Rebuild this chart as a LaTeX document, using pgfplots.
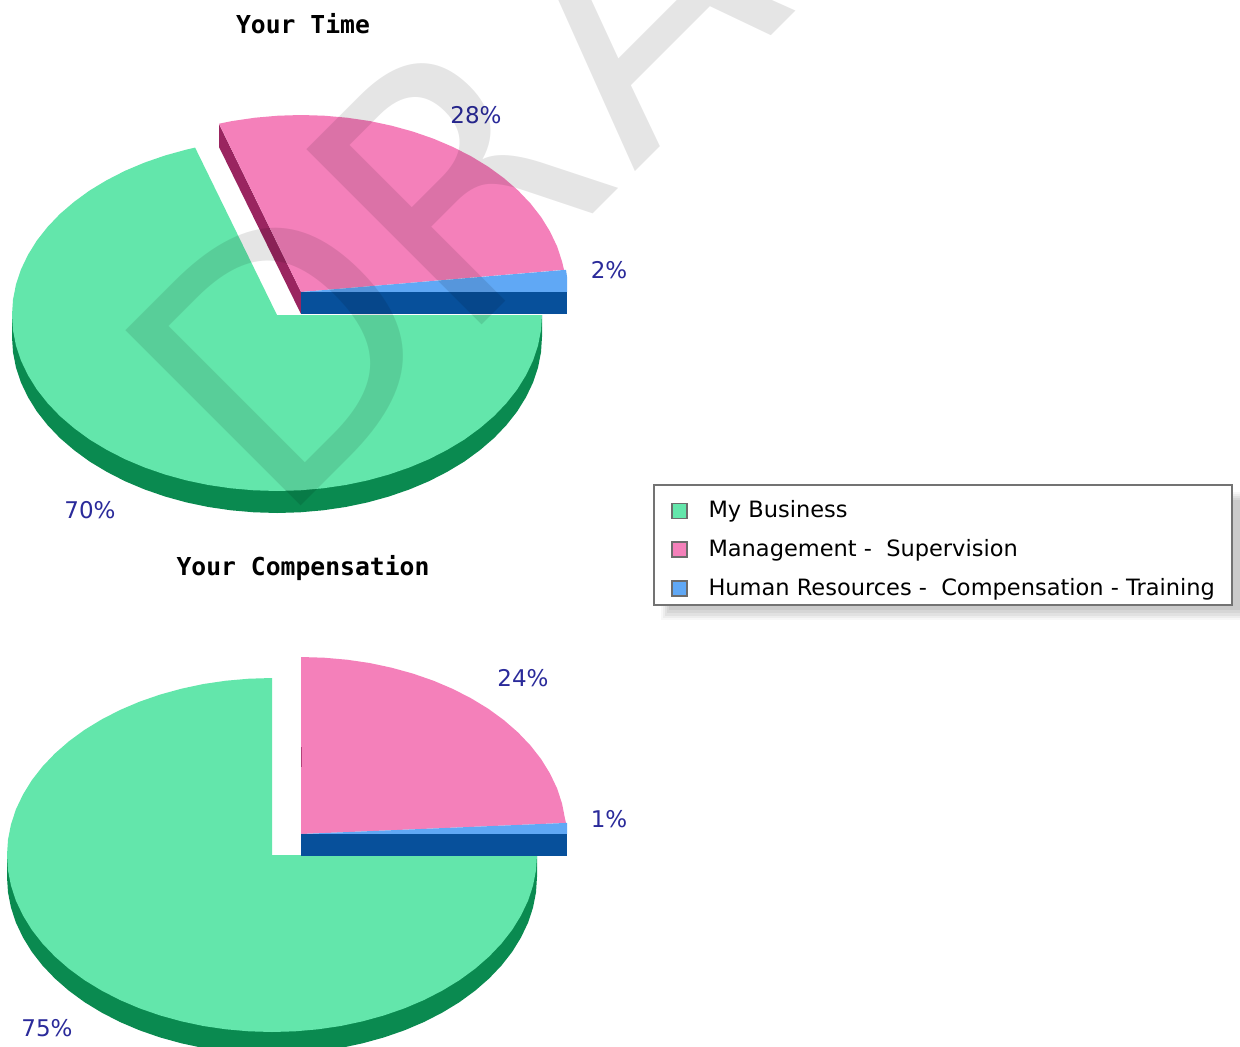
\documentclass[border=0pt]{standalone}
\usepackage{fontspec}
\setmainfont{DejaVu Sans}
\newfontfamily\titlefont[Scale=1]{DejaVu Sans Mono Bold}
\usepackage{pgfplots}
\pgfplotsset{compat=1.18}
\definecolor{gA}{HTML}{63E6AB}
\definecolor{gD}{HTML}{0A8A50}
\definecolor{pA}{HTML}{F480BA}
\definecolor{pD}{HTML}{9A2560}
\definecolor{bA}{HTML}{60A8F5}
\definecolor{bD}{HTML}{07509B}
\definecolor{lab}{HTML}{2A2A9A}
\pgfplotsset{wedge/.style={fill=#1,draw=none,no markers,forget plot},
 lwedge/.style={fill=#1,draw=none,no markers}}
\newcommand{\pct}[2]{\node[text=lab,font=\fontsize{23}{23}\selectfont,anchor=center,inner sep=0pt] at (axis cs:#1) {#2\%};}
\begin{document}
\begin{tikzpicture}
\clip (0,0) rectangle (1240pt,1047pt);
\begin{axis}[at={(0,0)},anchor=south west,scale only axis,width=1240pt,height=1047pt,
 xmin=0,xmax=1240,ymin=0,ymax=1047,y dir=reverse,hide axis,clip=false,
 legend cell align=left,
 legend image code/.code={\draw[#1,draw=gray!85!black,line width=1.6pt] (0pt,-12.5pt) rectangle (15pt,2.5pt);},
 legend style={at={(axis cs:653,484)},anchor=north west,draw=gray!90!black,line width=1.8pt,fill=white,
  inner xsep=17pt,inner ysep=8pt,row sep=12.5pt,
  /tikz/column 1/.style={column sep=21pt},
  nodes={inner sep=0pt,text height=25pt,text depth=1pt,font=\fontsize{22.5}{24}\selectfont}}]
% upper pie
\addplot[wedge=gD] coordinates {(12,315)(12,337)(13,352.3)(16,367.6)(21,382.6)(28,397.2)(36.8,411.4)(47.5,425)(59.9,438)(74,450.1)(89.6,461.5)(106.7,471.8)(125,481.2)(144.5,489.4)(165,496.5)(186.4,502.4)(208.4,507)(231,510.3)(253.9,512.3)(277,513)(300.1,512.3)(323,510.3)(345.6,507)(367.6,502.4)(389,496.5)(409.5,489.4)(429,481.2)(447.3,471.8)(464.4,461.5)(480,450.1)(494.1,438)(506.5,425)(517.2,411.4)(526,397.2)(533,382.6)(538,367.6)(541,352.3)(542,337)(542,315)};
\addplot[lwedge=gA] coordinates {(277,315)(195.1,147.6)(186.4,149.6)(165,155.5)(144.5,162.6)(125,170.8)(106.7,180.2)(89.6,190.5)(74,201.9)(59.9,214)(47.5,227)(36.8,240.6)(28,254.8)(21,269.4)(16,284.4)(13,299.7)(12,315)(13,330.3)(16,345.6)(21,360.6)(28,375.2)(36.8,389.4)(47.5,403)(59.9,416)(74,428.1)(89.6,439.5)(106.7,449.8)(125,459.2)(144.5,467.4)(165,474.5)(186.4,480.4)(208.4,485)(231,488.3)(253.9,490.3)(277,491)(300.1,490.3)(323,488.3)(345.6,485)(367.6,480.4)(389,474.5)(409.5,467.4)(429,459.2)(447.3,449.8)(464.4,439.5)(480,428.1)(494.1,416)(506.5,403)(517.2,389.4)(526,375.2)(533,360.6)(538,345.6)(541,330.3)(542,315)};
\addlegendentry{My Business}
\addplot[wedge=pD] coordinates {(219,124)(301,292)(301,314)(219,147)};
\addplot[lwedge=pA] coordinates {(301,292)(219,123.7)(232.4,121)(255,117.7)(277.9,115.7)(301,115)(324.1,115.7)(347,117.7)(369.6,121)(391.6,125.7)(413,131.6)(433.5,138.7)(453,147)(471.3,156.4)(488.4,166.8)(504,178.2)(518.1,190.5)(530.5,203.5)(541.2,217.2)(550,231.5)(557,246.2)(562,261.3)(564,269.8)};
\addlegendentry{Management -\ \ Supervision}
\addplot[lwedge=bA] coordinates {(301,292)(566,269.8)(567,276.6)(567,292)};
\addlegendentry{Human Resources -\ \ Compensation - Training}
\addplot[wedge=bD] coordinates {(301,292)(567,292)(567,314)(301,314)};
% lower pie
\addplot[wedge=gD] coordinates {(7,855)(7,877)(8,892.4)(11,907.7)(16,922.8)(23,937.5)(31.8,951.8)(42.5,965.5)(54.9,978.5)(69,990.8)(84.6,1002.2)(101.7,1012.6)(120,1022)(139.5,1030.3)(160,1037.4)(181.4,1043.3)(203.4,1048)(226,1051.3)(248.9,1053.3)(272,1054)(295.1,1053.3)(318,1051.3)(340.6,1048)(362.6,1043.3)(384,1037.4)(404.5,1030.3)(424,1022)(442.3,1012.6)(459.4,1002.2)(475,990.8)(489.1,978.5)(501.5,965.5)(512.2,951.8)(521,937.5)(528,922.8)(533,907.7)(536,892.4)(537,877)(537,855)};
\addplot[wedge=gA] coordinates {(272,855)(272,678)(248.9,678.7)(226,680.7)(203.4,684)(181.4,688.7)(160,694.6)(139.5,701.7)(120,710)(101.7,719.4)(84.6,729.8)(69,741.2)(54.9,753.5)(42.5,766.5)(31.8,780.2)(23,794.5)(16,809.2)(11,824.3)(8,839.7)(7,855)(8,870.4)(11,885.7)(16,900.8)(23,915.5)(31.8,929.8)(42.5,943.5)(54.9,956.5)(69,968.8)(84.6,980.2)(101.7,990.6)(120,1000)(139.5,1008.3)(160,1015.4)(181.4,1021.3)(203.4,1026)(226,1029.3)(248.9,1031.3)(272,1032)(295.1,1031.3)(318,1029.3)(340.6,1026)(362.6,1021.3)(384,1015.4)(404.5,1008.3)(424,1000)(442.3,990.6)(459.4,980.2)(475,968.8)(489.1,956.5)(501.5,943.5)(512.2,929.8)(521,915.5)(528,900.8)(533,885.7)(536,870.4)(537,855)};
\addplot[wedge=pA] coordinates {(301,834)(301,657)(324.1,657.7)(347,659.7)(369.6,663)(391.6,667.7)(413,673.6)(433.5,680.7)(453,689)(471.3,698.4)(488.4,708.8)(504,720.2)(518.1,732.5)(530.5,745.5)(541.2,759.2)(550,773.5)(557,788.2)(562,803.3)(565,818.6)(566,822.9)};
\addplot[wedge=bA] coordinates {(301,834)(567,822.9)(567,834)};
\addplot[wedge=bD] coordinates {(301,834)(567,834)(567,855.5)(301,855.5)};
\addplot[draw=pD,no markers,forget plot,line width=1pt,opacity=.7] coordinates {(301,747)(301,767)};
% shadow of the legend
\fill[black,opacity=.03] (axis cs:661,492) rectangle (axis cs:1240,620);
\fill[black,opacity=.04] (axis cs:663,494) rectangle (axis cs:1240,618);
\fill[black,opacity=.05] (axis cs:665,496) rectangle (axis cs:1240,616);
\fill[black,opacity=.05] (axis cs:667,498) rectangle (axis cs:1240,613);
\fill[black,opacity=.05] (axis cs:669,500) rectangle (axis cs:1240,610);
% labels
\pct{476,115}{28}
\pct{609,270}{2}
\pct{90,510}{70}
\pct{523,678}{24}
\pct{609,819}{1}
\pct{47,1028}{75}
\node[font=\titlefont\fontsize{24.7}{25}\selectfont,inner sep=0pt] at (axis cs:303,24) {Your Time};
\node[font=\titlefont\fontsize{24.7}{25}\selectfont,inner sep=0pt] at (axis cs:303,568) {Your Compensation};
% watermark
\node[anchor=base west,rotate=45,inner sep=0pt,text=black,text opacity=.1,font=\fontsize{340}{340}\selectfont] at (axis cs:277,530) {D\kern-6pt R\kern 12pt AFT};
\end{axis}
\end{tikzpicture}
\end{document}
